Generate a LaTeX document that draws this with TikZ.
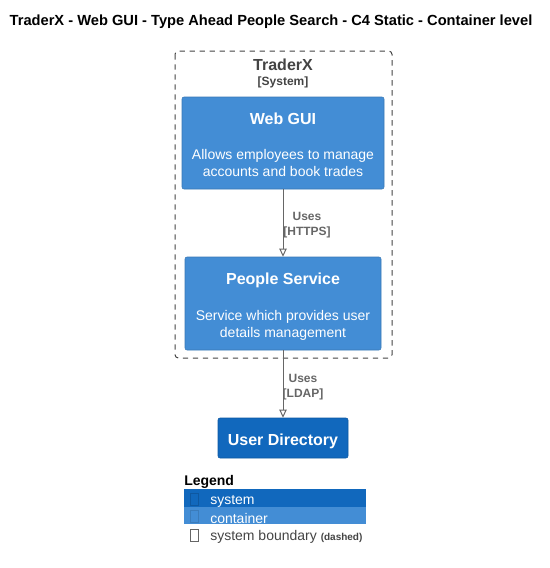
\documentclass[tikz,border=0pt]{standalone}
\usepackage{fontspec}
\setmainfont{Liberation Sans}
\usetikzlibrary{arrows.meta}

\definecolor{sysblue}{HTML}{1168BD}
\definecolor{contblue}{HTML}{438DD5}
\definecolor{boundgrey}{HTML}{444444}
\definecolor{relgrey}{HTML}{666666}

\tikzset{
  container/.style={fill=contblue, draw=contblue!85!black, line width=0.4pt, rounded corners=1.5pt},
  system/.style={fill=sysblue, draw=sysblue!85!black, line width=0.4pt, rounded corners=1.5pt},
  boxtitle/.style={text=white, font=\fontsize{12}{14}\selectfont\bfseries},
  boxdescr/.style={text=white, align=center, font=\fontsize{10.5}{12.75}\selectfont},
  rel/.style={draw=relgrey, line width=0.75pt, -{Triangle[open, length=6pt, width=5.5pt]}},
  rellabel/.style={text=relgrey, align=center, font=\fontsize{9}{11.25}\selectfont\bfseries},
  boundary/.style={draw=boundgrey, dash pattern=on 4pt off 3.5pt, line width=0.75pt, rounded corners=2.5pt},
  legrow/.style={anchor=north west, minimum width=136.5pt, minimum height=13.2pt, inner sep=0pt},
  legicon/.style={minimum width=6pt, minimum height=9pt, inner sep=0pt, line width=0.5pt},
  legtext/.style={anchor=west, inner sep=0pt, font=\fontsize{10.5}{12}\selectfont}
}

\begin{document}
\begin{tikzpicture}[x=0.75pt,y=-0.75pt]
\useasboundingbox (0,0) rectangle (550,568);

\node[font=\fontsize{11}{13}\selectfont\bfseries] (title) at (271,22) {TraderX - Web GUI - Type Ahead People Search - C4 Static - Container level};

% system boundary
\draw[boundary] (175,51) rectangle (392,358);
\node[text=boundgrey, font=\fontsize{12}{14}\selectfont\bfseries] (bname) at (283,65) {TraderX};
\node[text=boundgrey, font=\fontsize{9}{11}\selectfont\bfseries] (btype) at (283,82) {[System]};

% containers
\node[container, minimum width=151.5pt, minimum height=69pt] (webgui) at (283,143) {};
\node[boxtitle] (webguit) at (283,119) {Web GUI};
\node[boxdescr] (webguid) at (283,163) {Allows employees to manage\\accounts and book trades};

\node[container, minimum width=147pt, minimum height=69.75pt] (people) at (283,303.5) {};
\node[boxtitle] (peoplet) at (283,280) {People Service};
\node[boxdescr] (peopled) at (283,325.5) {Service which provides user\\details management};

% external system
\node[system, minimum width=97.5pt, minimum height=30pt] (userdir) at (283,438) {};
\node[boxtitle] (userdirt) at (283,441) {User Directory};

% relations
\draw[rel] (webgui) -- (people);
\node[rellabel] (rel1) at (307,225.5) {Uses\\{[HTTPS]}};
\draw[rel] (people) -- (userdir);
\node[rellabel] (rel2) at (303,387.5) {Uses\\{[LDAP]}};

% legend
\node[anchor=west, inner sep=0pt, font=\fontsize{10.5}{12}\selectfont\bfseries] (legend) at (184,482) {Legend};
\node[legrow, fill=sysblue] (legsys) at (184,489) {};
\node[legrow, fill=contblue] (legcont) at (184,506.5) {};
\node[legicon, draw=sysblue!85!black] (iconsys) at (194.5,499) {};
\node[legicon, draw=contblue!88!black] (iconcont) at (194.5,516.5) {};
\node[legicon, draw=relgrey] (iconbound) at (194.5,535) {};
\node[legtext, text=white] (txtsys) at (210,501) {system};
\node[legtext, text=white] (txtcont) at (210,518) {container};
\node[legtext, text=boundgrey] (txtbound) at (210,536.5) {system boundary {\fontsize{7.5}{8}\selectfont\bfseries(dashed)}};
\end{tikzpicture}
\end{document}
